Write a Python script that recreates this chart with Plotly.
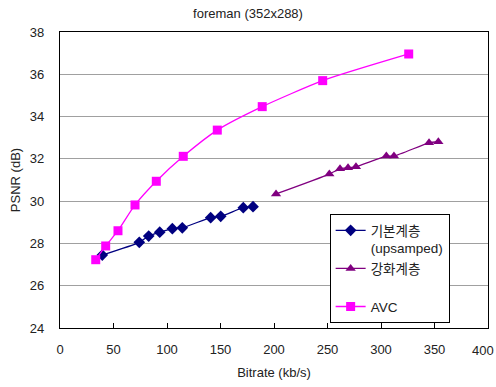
import plotly.graph_objects as go

# Rate-distortion data for the foreman (352x288) sequence
base_rate = [39.5, 74.1, 82.9, 93.2, 105.0, 114.3, 140.8, 150.2, 171.3, 180.4]
base_psnr = [27.45, 28.05, 28.35, 28.53, 28.70, 28.74, 29.22, 29.28, 29.69, 29.74]

enh_rate = [201.9, 251.7, 261.7, 269.2, 276.6, 305.0, 312.1, 344.9, 353.6]
enh_psnr = [30.34, 31.28, 31.53, 31.58, 31.63, 32.13, 32.13, 32.76, 32.81]

avc_rate = [33.4, 42.7, 54.2, 70.1, 90.0, 115.2, 147.0, 189.0, 245.5, 325.9]
avc_psnr = [27.23, 27.88, 28.60, 29.82, 30.94, 32.12, 33.36, 34.47, 35.70, 36.96]

x_ticks = [0, 50, 100, 150, 200, 250, 300, 350, 400]
y_ticks = [24, 26, 28, 30, 32, 34, 36, 38]

FONT = "Arial, Liberation Sans, Noto Sans CJK KR, sans-serif"
TEXT = "#222222"

fig = go.Figure()
fig.add_trace(go.Scatter(
    x=base_rate, y=base_psnr, mode="lines+markers",
    name="기본계층<br>(upsamped)",
    line=dict(color="#000080", width=1.3, shape="spline", smoothing=0.6),
    marker=dict(symbol="diamond", size=9, color="#000080"),
))
fig.add_trace(go.Scatter(
    x=enh_rate, y=enh_psnr, mode="lines+markers",
    name="강화계층<br> ",
    line=dict(color="#800080", width=1.3, shape="spline", smoothing=0.6),
    marker=dict(symbol="triangle-up", size=9, color="#800080"),
))
fig.add_trace(go.Scatter(
    x=avc_rate, y=avc_psnr, mode="lines+markers",
    name="AVC",
    line=dict(color="#FF00FF", width=1.3, shape="spline", smoothing=0.6),
    marker=dict(symbol="square", size=9, color="#FF00FF"),
))

fig.update_layout(
    width=496, height=387,
    margin=dict(l=60, r=8, t=32, b=59),
    paper_bgcolor="white", plot_bgcolor="white",
    font=dict(family=FONT, size=13, color=TEXT),
    title=dict(text="foreman (352x288)", x=0.5, xanchor="center",
               y=1 - 13 / 387, yanchor="middle",
               font=dict(family=FONT, size=13, color=TEXT)),
    showlegend=True,
    legend=dict(
        x=0.63, y=0.385, xanchor="left", yanchor="top",
        bgcolor="white", bordercolor="black", borderwidth=1,
        font=dict(family=FONT, size=13.5, color=TEXT),
        valign="top", tracegroupgap=0,
    ),
)

# the last tick label sits at the right edge of the plot; it is drawn as an
# annotation nudged left so that it stays inside the page
fig.update_xaxes(
    range=[0, 400], tickvals=x_ticks[:-1], ticktext=[str(v) for v in x_ticks[:-1]],
    showgrid=False, zeroline=False, automargin=False,
    showline=True, linecolor="black", linewidth=1.3, mirror=True,
    ticks="inside", ticklen=5, tickcolor="black",
    ticklabelstandoff=9,
    title=dict(text="Bitrate (kb/s)", standoff=12, font=dict(size=13)),
)
fig.add_annotation(
    x=x_ticks[-1], xref="x", y=0, yref="paper", yanchor="top",
    text=str(x_ticks[-1]), showarrow=False, xanchor="center", xshift=-5,
    yshift=-13, font=dict(family=FONT, size=13, color=TEXT),
)
fig.update_yaxes(
    range=[24, 38], tickvals=y_ticks, ticktext=[str(v) for v in y_ticks],
    showgrid=True, gridcolor="#a0a0a0", gridwidth=1, zeroline=False,
    automargin=False,
    showline=True, linecolor="black", linewidth=1.3, mirror=True,
    ticks="", ticklabelstandoff=12,
    title=dict(text="PSNR (dB)", standoff=6, font=dict(size=13)),
)

fig.write_html("out.html")
